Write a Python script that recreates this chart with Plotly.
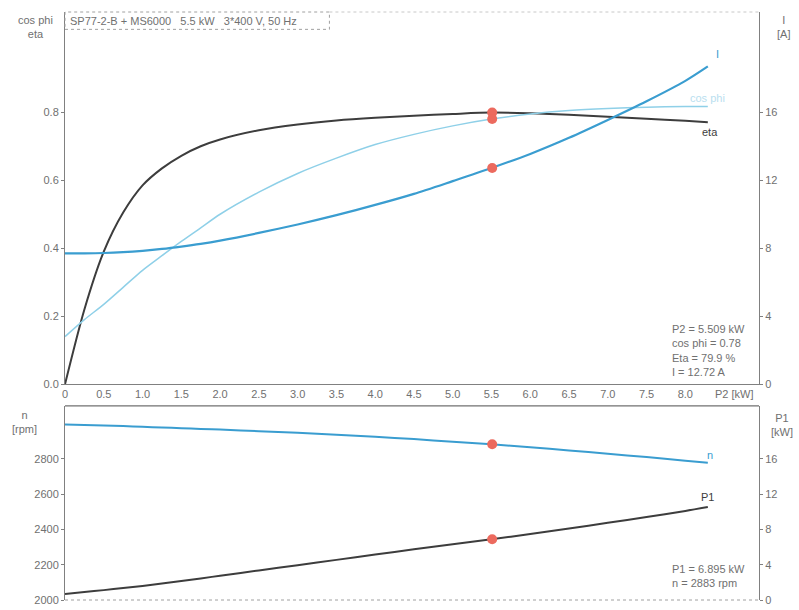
import plotly.graph_objects as go

# Pump + motor performance curves: SP77-2-B + MS6000
p2 = [0.0, 0.25, 0.5, 0.75, 1.0, 1.25, 1.5, 1.75, 2.0, 2.5, 3.0, 3.5, 4.0, 4.5, 5.0, 5.5, 6.0, 6.5, 7.0, 7.5, 8.0, 8.29]
eta = [0.0, 0.22, 0.39, 0.505, 0.585, 0.635, 0.672, 0.70, 0.72, 0.747, 0.764, 0.776, 0.784, 0.79, 0.795, 0.799, 0.797, 0.793, 0.787, 0.781, 0.775, 0.771]
cos_phi = [0.14, 0.19, 0.235, 0.285, 0.335, 0.378, 0.42, 0.46, 0.50, 0.565, 0.62, 0.665, 0.705, 0.735, 0.76, 0.78, 0.795, 0.805, 0.811, 0.815, 0.817, 0.817]
current = [7.7, 7.7, 7.72, 7.77, 7.85, 7.96, 8.1, 8.26, 8.45, 8.9, 9.4, 9.95, 10.55, 11.2, 11.95, 12.72, 13.55, 14.5, 15.55, 16.65, 17.85, 18.7]
speed = [2995, 2992, 2989, 2986, 2982, 2978, 2974, 2970, 2966, 2957, 2948, 2937, 2925, 2912, 2897, 2883, 2866, 2848, 2829, 2810, 2790, 2778]
p1 = [0.68, 0.9, 1.12, 1.35, 1.6, 1.87, 2.15, 2.45, 2.75, 3.35, 3.95, 4.55, 5.15, 5.75, 6.33, 6.895, 7.48, 8.1, 8.75, 9.4, 10.1, 10.55]

# Duty point
duty_p2 = 5.509
duty_cos = 0.78
duty_eta = 0.799
duty_i = 12.72
duty_p1 = 6.895
duty_n = 2883

x_ticks = [0, 0.5, 1.0, 1.5, 2.0, 2.5, 3.0, 3.5, 4.0, 4.5, 5.0, 5.5, 6.0, 6.5, 7.0, 7.5, 8.0]
x_tick_text = ["0", "0.5", "1.0", "1.5", "2.0", "2.5", "3.0", "3.5", "4.0", "4.5", "5.0", "5.5", "6.0", "6.5", "7.0", "7.5", "8.0"]
eta_ticks = [0.0, 0.2, 0.4, 0.6, 0.8]
eta_tick_text = ["0.0", "0.2", "0.4", "0.6", "0.8"]
i_ticks = [0, 4, 8, 12, 16]
n_ticks = [2000, 2200, 2400, 2600, 2800]
p1_ticks = [0, 4, 8, 12, 16]

DARK = "#3d3d3d"
BLUE = "#3a9dd0"
LIGHT = "#8fd0e8"
RED = "#ec6a5e"
GREY = "#808080"
FONT = "Liberation Sans, Arial, sans-serif"

fig = go.Figure()

fig.add_trace(go.Scatter(x=p2, y=eta, mode="lines", line=dict(color=DARK, width=2, shape="spline", smoothing=0.8),
                         xaxis="x", yaxis="y", showlegend=False))
fig.add_trace(go.Scatter(x=p2, y=cos_phi, mode="lines", line=dict(color=LIGHT, width=1.5, shape="spline", smoothing=0.8),
                         xaxis="x", yaxis="y", showlegend=False))
fig.add_trace(go.Scatter(x=p2, y=current, mode="lines", line=dict(color=BLUE, width=2.2, shape="spline", smoothing=0.8),
                         xaxis="x", yaxis="y2", showlegend=False))
fig.add_trace(go.Scatter(x=[duty_p2, duty_p2], y=[duty_eta, duty_cos], mode="markers",
                         marker=dict(color=RED, size=10), xaxis="x", yaxis="y", showlegend=False))
fig.add_trace(go.Scatter(x=[duty_p2], y=[duty_i], mode="markers",
                         marker=dict(color=RED, size=10), xaxis="x", yaxis="y2", showlegend=False))

fig.add_trace(go.Scatter(x=p2, y=speed, mode="lines", line=dict(color=BLUE, width=2, shape="spline", smoothing=0.8),
                         xaxis="x2", yaxis="y3", showlegend=False))
fig.add_trace(go.Scatter(x=p2, y=p1, mode="lines", line=dict(color=DARK, width=2, shape="spline", smoothing=0.8),
                         xaxis="x2", yaxis="y4", showlegend=False))
fig.add_trace(go.Scatter(x=[duty_p2], y=[duty_n], mode="markers",
                         marker=dict(color=RED, size=10), xaxis="x2", yaxis="y3", showlegend=False))
fig.add_trace(go.Scatter(x=[duty_p2], y=[duty_p1], mode="markers",
                         marker=dict(color=RED, size=10), xaxis="x2", yaxis="y4", showlegend=False))

tick_font = dict(family=FONT, size=11, color="#707070")
axis_common = dict(showgrid=False, zeroline=False, showline=True, linecolor=GREY, linewidth=1,
                   tickfont=tick_font, ticks="outside", ticklen=3, tickcolor=GREY)

top_dom = [0.367, 1.0]
bot_dom = [0.0, 0.33]
xr = [0, 8.95]

fig.update_layout(
    width=799, height=610, autosize=False,
    margin=dict(l=65, r=40, t=12, b=4),
    paper_bgcolor="white", plot_bgcolor="white",
    font=dict(family=FONT, size=11, color="#707070"),
    xaxis=dict(**axis_common, domain=[0, 1], range=xr, anchor="y",
               tickvals=x_ticks, ticktext=x_tick_text, mirror=False),
    yaxis=dict(**axis_common, domain=top_dom, range=[0, 1.095], anchor="x",
               tickvals=eta_ticks, ticktext=eta_tick_text),
    yaxis2=dict(**axis_common, domain=top_dom, range=[0, 21.9], anchor="x",
                overlaying="y", side="right", tickvals=i_ticks),
    xaxis2=dict(showgrid=False, zeroline=False, showline=False, domain=[0, 1], range=xr, anchor="y3",
                showticklabels=False, ticks=""),
    yaxis3=dict(**axis_common, domain=bot_dom, range=[2000, 3100], anchor="x2",
                tickvals=n_ticks),
    yaxis4=dict(**axis_common, domain=bot_dom, range=[0, 22], anchor="x2",
                overlaying="y3", side="right", tickvals=p1_ticks),
)
fig.update_xaxes(ticks="", selector=dict(anchor="y"))

# Frame pieces: title box, top edges and dotted bottom edge
fig.add_shape(type="rect", xref="paper", yref="paper", x0=0, x1=0.381, y0=0.9705, y1=1.0,
              line=dict(color="#a0a0a0", width=1, dash="dot"))
fig.add_shape(type="line", xref="paper", yref="paper", x0=0.381, x1=1, y0=1.0, y1=1.0,
              line=dict(color="#c8c8c8", width=1, dash="dot"))
fig.add_shape(type="line", xref="paper", yref="paper", x0=0, x1=1, y0=0.33, y1=0.33,
              line=dict(color="#707070", width=1.2))
fig.add_shape(type="line", xref="paper", yref="paper", x0=0, x1=1, y0=0.0, y1=0.0,
              line=dict(color="#a0a0a0", width=1, dash="dot"))

ann = []
def label(text, x, y, xanchor="center", yanchor="middle", align="center", color="#707070", size=11):
    ann.append(dict(text=text, x=x, y=y, xref="paper", yref="paper", xanchor=xanchor, yanchor=yanchor,
                    align=align, showarrow=False, font=dict(family=FONT, size=size, color=color)))

label("SP77-2-B + MS6000   5.5 kW   3*400 V, 50 Hz", 0.005, 0.985, xanchor="left")
label("cos phi<br>eta", -0.042, 0.975, align="center")
label("I<br>[A]", 1.035, 0.975)
label("n<br>[rpm]", -0.058, 0.302)
label("P1<br>[kW]", 1.033, 0.297)
label("P2 [kW]", 0.965, 0.35)
label("P2 = 5.509 kW<br>cos phi = 0.78<br>Eta = 79.9 %<br>I = 12.72 A", 0.872, 0.375,
      xanchor="left", yanchor="bottom", align="left")
label("P1 = 6.895 kW<br>n = 2883 rpm", 0.872, 0.015, xanchor="left", yanchor="bottom", align="left")

# Curve name tags next to the line ends
ann.append(dict(text="I", x=8.29, y=current[-1], xref="x", yref="y2", xanchor="left", yanchor="bottom",
                xshift=6, yshift=4, showarrow=False, font=dict(family=FONT, size=11, color=BLUE)))
ann.append(dict(text="cos phi", x=8.29, y=cos_phi[-1], xref="x", yref="y", xanchor="center", yanchor="bottom",
                xshift=0, yshift=1, showarrow=False, font=dict(family=FONT, size=11, color="#b9e0ef")))
ann.append(dict(text="eta", x=8.29, y=eta[-1], xref="x", yref="y", xanchor="center", yanchor="top",
                xshift=2, yshift=-2, showarrow=False, font=dict(family=FONT, size=11, color=DARK)))
ann.append(dict(text="n", x=8.29, y=speed[-1], xref="x2", yref="y3", xanchor="center", yanchor="bottom",
                xshift=2, yshift=0, showarrow=False, font=dict(family=FONT, size=11, color=BLUE)))
ann.append(dict(text="P1", x=8.29, y=p1[-1], xref="x2", yref="y4", xanchor="center", yanchor="bottom",
                xshift=0, yshift=2, showarrow=False, font=dict(family=FONT, size=11, color=DARK)))

fig.update_layout(annotations=ann)

fig.write_html("out.html")
